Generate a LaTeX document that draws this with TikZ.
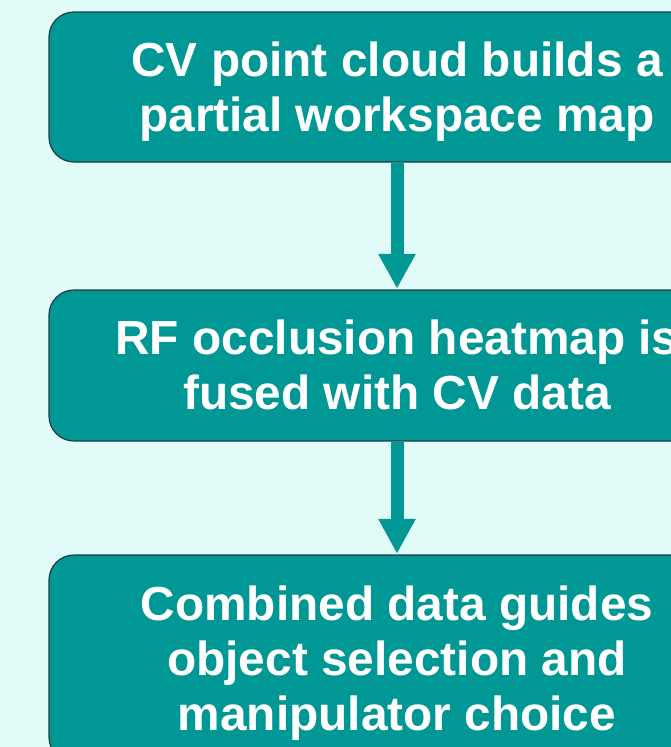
\documentclass[tikz,border=0pt]{standalone}
\usepackage{fontspec}
\setmainfont{Liberation Sans}
\usetikzlibrary{arrows.meta}
\definecolor{bgc}{HTML}{E0FBF8}
\definecolor{boxc}{HTML}{009794}
\definecolor{edgec}{HTML}{1C3B4A}
\tikzset{
  stepbox/.style={draw=edgec, line width=1.2pt, fill=boxc, rounded corners=25pt,
    minimum width=696pt, align=center, text=white, inner sep=0pt,
    text depth=0pt, text height=88pt,
    font=\fontsize{47.8pt}{55pt}\selectfont\bfseries},
  flowarrow/.style={draw=boxc, line width=13pt, -{Triangle[width=35pt,length=35pt]}, shorten >=0.6pt}
}
\begin{document}
\begin{tikzpicture}[x=1pt,y=-1pt]
\useasboundingbox (0,0) rectangle (671,747);
\fill[bgc] (0,0) rectangle (671,747);
\clip (0,0) rectangle (671,747);
\node[stepbox, minimum height=150pt] (a) at (397,87) {CV point cloud builds a\\partial workspace map};
\node[stepbox, minimum height=151pt] (b) at (397,365.5) {RF occlusion heatmap is\\fused with CV data};
\node[stepbox, minimum height=207pt, text height=143pt] (c) at (397,658.5) {Combined data guides\\object selection and\\manipulator choice};
\draw[flowarrow] (a.south) -- (b.north);
\draw[flowarrow] (b.south) -- (c.north);
\end{tikzpicture}
\end{document}
